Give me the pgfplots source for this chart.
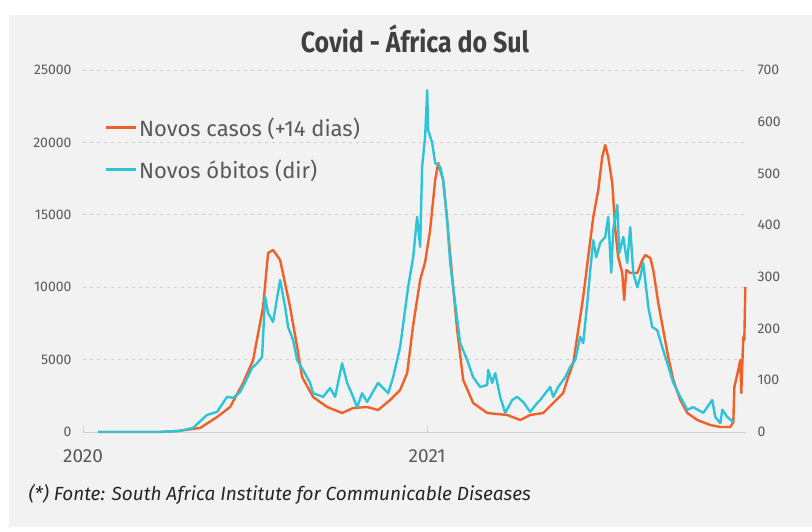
\documentclass[border=0pt]{standalone}
\usepackage{fontspec}
\setmainfont{Fira Sans}
\newfontfamily\titlefont[FakeStretch=0.86]{Fira Sans}
\usepackage{pgfplots}
\usepackage{pgfplotstable}
\pgfplotsset{compat=1.18}
\definecolor{bggray}{HTML}{F2F2F2}
\definecolor{casos}{HTML}{F06028}
\definecolor{obitos}{HTML}{2EC4D8}
\definecolor{txtgray}{HTML}{595959}
\definecolor{titlegray}{HTML}{404040}
\definecolor{gridgray}{HTML}{D0D0D0}

\pgfplotstableread{
day cases
16 0
82 0
100 69
124.5 276
142.6 1036
156.4 1727
170.2 3384
180.9 4972
191.5 8633
196.8 12362
202.1 12569
209.6 11878
220.2 8633
227.7 5870
233.0 3798
244.7 2417
259.6 1727
275.5 1312
287.2 1657
302.1 1727
313.8 1519
326.6 2210
337.2 2901
344.7 4075
351.1 7389
358.5 10497
363.8 11740
369.1 13950
374.5 17403
377.7 18577
383.0 17403
387.2 14641
392.6 10704
397.9 7044
404.3 3591
414.9 2003
429.8 1312
451.1 1174
464.9 829
475.5 1174
489.4 1312
500.0 2003
510.6 2693
516.0 3798
521.3 4765
526.6 7044
531.9 9323
537.2 12086
542.6 14848
547.9 16713
552.1 18992
555.3 19820
558.5 18992
562.8 17196
566.0 13950
569.1 12086
573.4 10981
575.5 9116
577.7 11188
581.9 10981
589.4 10981
594.7 11878
597.9 12224
603.2 12016
606.4 11188
611.7 8909
617.0 7044
622.3 5180
627.7 3591
635.1 2210
642.6 1312
653.2 829
667.0 483
677.7 345
688.3 345
691.5 691
692.6 3108
696.8 4282
698.9 4972
700.0 2693
702.1 6561
703.2 6354
704.3 10014
}\casos

\pgfplotstableread{
day deaths
16 0
82 0
103.2 2
117.0 8
131.9 33
142.6 39
153.2 68
159.6 66
167.0 77
174.5 104
179.8 124
185.1 133
190.4 145
193.6 261
196.8 230
202.1 213
209.6 294
214.9 242
218.1 203
223.4 178
227.7 139
234.0 120
241.5 95
244.7 75
255.3 68
262.8 85
268.1 68
275.5 133
280.9 95
287.2 68
291.5 48
296.8 75
302.1 58
313.8 95
324.5 75
329.8 106
337.2 164
345.7 280
351.1 338
355.3 416
358.5 358
360.6 513
363.8 571
366.0 661
367.0 584
371.3 559
374.5 520
379.8 513
383.0 487
387.2 410
390.4 327
395.7 249
401.1 172
408.5 139
414.9 106
422.3 87
429.8 91
430.9 120
435.1 95
438.3 114
443.6 68
449.0 37
456.4 62
461.7 68
468.1 58
475.5 39
483.0 56
486.2 62
496.8 87
500.0 68
505.3 87
512.8 106
518.1 126
523.4 139
528.7 184
531.9 172
536.2 249
539.4 313
542.6 371
545.7 338
550.0 366
555.3 377
558.5 416
561.7 308
563.8 391
568.1 439
570.2 346
574.5 377
578.7 327
581.9 396
585.1 308
589.4 280
592.6 300
595.7 327
601.1 242
605.3 203
610.6 197
616.0 164
621.3 133
627.7 95
635.1 68
642.6 43
648.9 48
659.6 37
669.1 62
672.3 29
677.7 17
679.8 43
685.1 29
691.5 19
}\obitos

\begin{document}
\begin{tikzpicture}[x=1pt,y=1pt]
\fill[white] (0,0) rectangle (812,531);
\fill[bggray] (9,4) rectangle (812,516);
\node[font=\titlefont\bfseries\fontsize{29}{32}\selectfont, text=titlegray] at (415,492) {Covid - África do Sul};
\node[anchor=west, font=\itshape\fontsize{19}{22}\selectfont, text=black!85] at (25,37) {(*) Fonte: South Africa Institute for Communicable Diseases};

\begin{axis}[
  at={(83pt,99pt)}, anchor=south west,
  width=663pt, height=362pt, scale only axis,
  xmin=0, xmax=705, ymin=0, ymax=25000,
  axis x line*=bottom, axis y line*=left,
  x axis line style={draw=gridgray, line width=0.8pt},
  y axis line style={draw=none},
  xtick={0,366}, xticklabels={2020,2021},
  xtick style={draw=gridgray, line width=0.8pt},
  major tick length=6pt,
  ytick={0,5000,10000,15000,20000,25000},
  scaled y ticks=false,
  ytick style={draw=none},
  ymajorgrids,
  grid style={dash pattern=on 3pt off 4pt, gridgray, line width=0.8pt},
  /pgf/number format/assume math mode=true,
  /pgf/number format/1000 sep={},
  yticklabel style={font=\fontsize{14}{16}\selectfont, text=txtgray, xshift=-8pt},
  xticklabel style={font=\fontsize{19}{21}\selectfont, text=txtgray, yshift=-14pt},
  legend style={at={(axis description cs:0.032,0.875)}, anchor=north west, draw=none, fill=none,
    font=\fontsize{22}{24}\selectfont, text=txtgray, row sep=18pt, inner sep=0pt},
  legend cell align=left,
  legend image code/.code={\draw[#1, line width=2.6pt] (0pt,0pt) -- (30pt,0pt);},
  clip=false,
]
\addplot[casos, line width=2.4pt, line join=round] table[x=day,y=cases] {\casos};
\addlegendentry{Novos casos (+14 dias)}
\addlegendimage{obitos, line width=2.6pt}
\addlegendentry{Novos óbitos (dir)}
\end{axis}

\begin{axis}[
  at={(83pt,99pt)}, anchor=south west,
  width=663pt, height=362pt, scale only axis,
  xmin=0, xmax=705, ymin=0, ymax=700,
  axis y line*=right, hide x axis,
  y axis line style={draw=none},
  ytick={0,100,...,700},
  ytick style={draw=none},
  /pgf/number format/assume math mode=true,
  yticklabel style={font=\fontsize{14}{16}\selectfont, text=txtgray, anchor=west, xshift=8pt},
]
\addplot[obitos, line width=2.4pt, line join=round] table[x=day,y=deaths] {\obitos};
\end{axis}
\end{tikzpicture}
\end{document}
